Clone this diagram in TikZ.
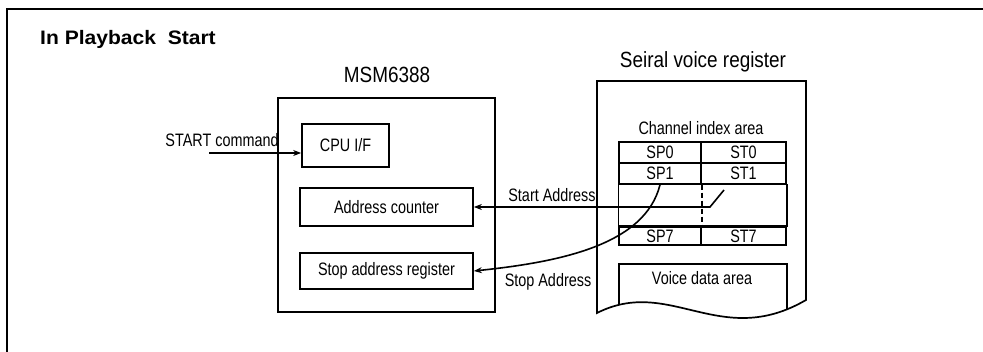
\documentclass[tikz,border=0pt]{standalone}
\usepackage{fontspec}
\setmainfont{Liberation Sans}
\newfontfamily\lblfont[FakeStretch=0.8]{Liberation Sans}
\newfontfamily\headfont[FakeStretch=0.86]{Liberation Sans}
\newfontfamily\titlefont[FakeStretch=1.08]{Liberation Sans}
\usetikzlibrary{arrows.meta}

\begin{document}
\begin{tikzpicture}[x=1pt,y=-1pt,
  blk/.style={draw,line width=1.7pt,inner sep=0pt,font=\lblfont\fontsize{18}{20}\selectfont},
  cell/.style={blk,line width=1.5pt},
  lbl/.style={inner sep=0pt,anchor=base,font=\lblfont\fontsize{18}{20}\selectfont},
  head/.style={inner sep=0pt,anchor=base,font=\headfont\fontsize{22}{26}\selectfont},
  arr/.style={line width=1.6pt,-{Stealth[length=8pt,width=6pt]}}]
\useasboundingbox (0,0) rectangle (983,352);
% frame and title
\draw[line width=2.2pt] (983,9) -- (7,9) -- (7,352);
\node[inner sep=0pt,anchor=base west,font=\titlefont\bfseries\fontsize{19.5}{22}\selectfont] (title) at (40,45) {In Playback~ Start};

% MSM6388 side
\node[head] (msmlbl) at (387,83) {MSM6388};
\node[draw,line width=1.7pt,minimum width=217,minimum height=214] (msm) at (386.5,205) {};
\node[blk,minimum width=87,minimum height=43] (cpu) at (345.5,145.5) {CPU I/F};
\node[blk,minimum width=173,minimum height=38] (adrcnt) at (386.5,207) {Address counter};
\node[blk,minimum width=173,minimum height=36] (stopreg) at (386.5,271) {Stop address register};
\node[lbl] (startcmd) at (222,147) {START command};
\coordinate (cmdin) at (209,153);
\draw[arr] (cmdin) -- (cmdin -| cpu.west);

% serial voice register
\node[head] (svrlbl) at (703,68) {Seiral voice register};
\begin{scope}
  \clip (597,313) .. controls (670,276) and (720,350) .. (806,300) -- (806,81) -- (597,81) -- cycle;
  \draw[line width=1.5pt] (619,330) -- (619,264) -- (787,264) -- (787,330);
\end{scope}
\draw[line width=1.7pt] (597,313) .. controls (670,276) and (720,350) .. (806,300) -- (806,81) -- (597,81) -- cycle;
\node[lbl] (chidx) at (701,135) {Channel index area};
\foreach \n/\y/\h in {0/152.5/21,1/173.5/21,7/236/18}{
  \node[cell,minimum width=82,minimum height=\h] (sp\n) at (660,\y) {SP\n};
  \node[cell,minimum width=85,minimum height=\h] (st\n) at (743.5,\y) {ST\n};
}
\draw[line width=1.5pt] (sp1.south west) rectangle (st7.north east);
\draw[line width=1.5pt,dash pattern=on 5pt off 3pt] (sp1.south east) -- (sp7.north east);
\node[lbl] (voice) at (702,285) {Voice data area};

% address transfers
\coordinate (knee) at (710,207);
\coordinate (slashtop) at (724,190);
\draw[arr] (slashtop) -- (knee) -- (adrcnt.east);
\draw[arr] (sp1.south) .. controls (645,245) and (560,262) .. (stopreg.east);
\node[lbl] (startadr) at (552,202) {Start Address};
\node[lbl] (stopadr) at (548,287) {Stop Address};
\end{tikzpicture}
\end{document}
